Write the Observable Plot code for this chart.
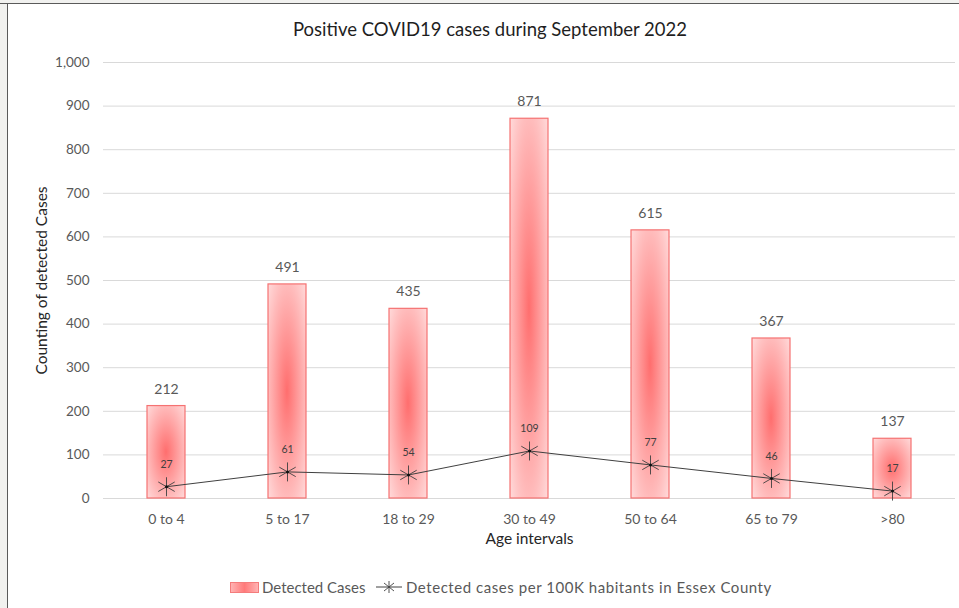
<!DOCTYPE html>
<html>
<head>
<meta charset="utf-8">
<script src="https://cdn.jsdelivr.net/npm/d3@7"></script>
<script src="https://cdn.jsdelivr.net/npm/@observablehq/plot@0.6"></script>
<style>
  body { margin: 0; background: #fff; font-family: Lato, "Noto Sans", sans-serif; }
  #page { position: relative; width: 959px; height: 608px; overflow: hidden; background: #fff; }
  #frameL { position: absolute; left: 0; top: 0; width: 7px; height: 608px; background: #f1f1ef; border-right: 1px solid #5a5a5a; }
  #frameT { position: absolute; left: 0; top: 0; width: 959px; height: 3px; background: #f1f1ef; border-bottom: 1px solid #5a5a5a; }
  #chart { position: absolute; left: 0; top: 0; }
  #title { position: absolute; top: 18px; left: 0; width: 980px; text-align: center; font-size: 18.5px; color: #1f1f1f; }
  #legend1 { position: absolute; top: 578px; left: 230px; display: flex; align-items: center; font-size: 15px; color: #595959; white-space: nowrap; }
  #legend2 { position: absolute; top: 578px; left: 376px; display: flex; align-items: center; font-size: 15px; color: #595959; white-space: nowrap; letter-spacing: 0.55px; }
  .sw { width: 29px; height: 11px; border: 1px solid #f47c7c; box-sizing: border-box; margin-right: 3px;
        background: linear-gradient(90deg, #ffb3b3, #ff7a7a 50%, #ffb3b3); }
</style>
</head>
<body>
<div id="page">
  <div id="frameL"></div>
  <div id="frameT"></div>
  <div id="chart"></div>
  <div id="title">Positive COVID19 cases during September 2022</div>
  <div id="legend1"><span class="sw"></span><span>Detected Cases</span></div>
  <div id="legend2">
    <svg width="27" height="16" style="margin-right:3px">
      <line x1="0" y1="8" x2="26" y2="8" stroke="#404040" stroke-width="1"/>
      <g transform="translate(13,8)" stroke="#404040" stroke-width="0.9">
        <line x1="0" y1="-6" x2="0" y2="6"/>
        <line x1="-5" y1="-4" x2="5" y2="4"/>
        <line x1="-5" y1="4" x2="5" y2="-4"/>
      </g>
    </svg>
    <span>Detected cases per 100K habitants in Essex County</span>
  </div>
</div>
<script>
const ageGroups = ["0 to 4", "5 to 17", "18 to 29", "30 to 49", "50 to 64", "65 to 79", ">80"];
const detectedCases = [212, 491, 435, 871, 615, 367, 137];
const casesPer100K = [27, 61, 54, 109, 77, 46, 17];
const yTicks = [0, 100, 200, 300, 400, 500, 600, 700, 800, 900, 1000];
const yLabel = "Counting of detected Cases";
const xLabel = "Age intervals";

const data = ageGroups.map((g, i) => ({ group: g, cases: detectedCases[i], rate: casesPer100K[i] }));

const chart = Plot.plot({
  width: 959,
  height: 608,
  marginLeft: 103,
  marginRight: 4,
  marginTop: 62,
  marginBottom: 110,
  style: { fontFamily: "Lato, 'Noto Sans', sans-serif", fontSize: "13px", color: "#595959", background: "transparent" },
  x: { domain: ageGroups, paddingInner: 0.69, paddingOuter: 0.345, label: null },
  y: { domain: [0, 1000], label: null },
  marks: [
    Plot.gridY(yTicks, { stroke: "#d9d9d9", strokeOpacity: 1 }),
    Plot.axisY(yTicks, { tickSize: 0, tickPadding: 14, tickFormat: d3.format(","), label: null, fontSize: 13.5 }),
    Plot.axisX({ tickSize: 0, tickPadding: 16, label: null, fontSize: 14 }),
    Plot.barY(data, { x: "group", y: "cases", fill: "url(#barGrad)", stroke: "#f57272", strokeWidth: 1.2 }),
    Plot.text(data, { x: "group", y: "cases", text: d => String(d.cases), dy: -17, fontSize: 14, fill: "#595959" }),
    Plot.line(data, { x: "group", y: "rate", stroke: "#404040", strokeWidth: 1 }),
    Plot.dot(data, { x: "group", y: "rate", symbol: "asterisk", r: 9, stroke: "#404040", strokeWidth: 0.9 }),
    Plot.dot(data, { x: "group", y: "rate", r: 1.5, fill: "#111", stroke: null }),
    Plot.text(data, { x: "group", y: "rate", text: d => String(d.rate), dy: -22, fontSize: 10.5, fill: "#404040" }),
    Plot.text([yLabel], { frameAnchor: "left", textAnchor: "middle", dx: -61, rotate: -90, fontSize: 15.5, fill: "#262626" }),
    Plot.text([xLabel], { frameAnchor: "bottom", dy: 45, fontSize: 15.5, fill: "#262626" })
  ]
});

const svg = d3.select(chart);
const defs = svg.insert("defs", ":first-child");
const rg = defs.append("radialGradient").attr("id", "barGrad").attr("cx", "50%").attr("cy", "50%").attr("r", "70%");
rg.append("stop").attr("offset", "0%").attr("stop-color", "#ff6e6e");
rg.append("stop").attr("offset", "55%").attr("stop-color", "#ffaaaa");
rg.append("stop").attr("offset", "100%").attr("stop-color", "#ffdada");

document.getElementById("chart").appendChild(chart);
</script>
</body>
</html>
